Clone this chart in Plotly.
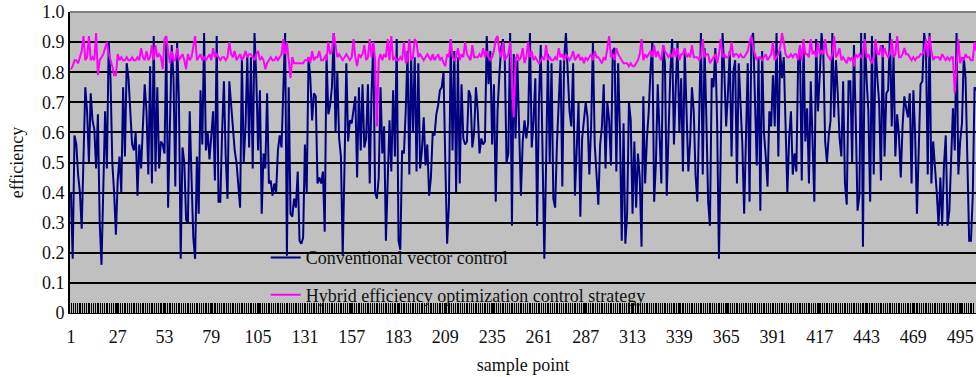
import plotly.graph_objects as go

# ---------------- data ----------------
conventional_1 = [
    0.40, 0.18, 0.59, 0.56, 0.46, 0.40, 0.28, 0.50, 0.75, 0.67,
    0.50, 0.73, 0.64, 0.61, 0.48, 0.66, 0.30, 0.16, 0.38, 0.67,
    0.48, 0.90, 0.78, 0.50, 0.40, 0.26, 0.44, 0.52, 0.40, 0.75,
    0.52, 0.83, 0.78, 0.66, 0.56, 0.54, 0.60, 0.39, 0.56, 0.48,
    0.62, 0.76, 0.67, 0.46, 0.82, 0.43, 0.92, 0.47, 0.75, 0.48,
    0.57, 0.56, 0.53, 0.90, 0.35, 0.64, 0.89, 0.78, 0.42, 0.90,
    0.71, 0.18, 0.55, 0.50, 0.31, 0.30, 0.67, 0.45, 0.25, 0.18,
    0.52, 0.33, 0.74, 0.56, 0.93, 0.54, 0.60, 0.51, 0.58, 0.67,
    0.44, 0.92, 0.37, 0.37, 0.60, 0.77, 0.52, 0.38, 0.77, 0.69,
    0.60, 0.54, 0.50, 0.42, 0.35, 0.85, 0.50, 0.62, 0.85, 0.55,
]
conventional_2 = [
    0.85, 0.48, 0.93, 0.78, 0.54, 0.74, 0.33, 0.53, 0.48, 0.73,
    0.43, 0.44, 0.39, 0.43, 0.40, 0.54, 0.59, 0.55, 0.73, 0.93,
    0.19, 0.75, 0.33, 0.32, 0.38, 0.35, 0.47, 0.24, 0.23, 0.25,
    0.56, 0.40, 0.85, 0.78, 0.64, 0.73, 0.72, 0.43, 0.45, 0.43,
    0.47, 0.27, 0.86, 0.66, 0.69, 0.75, 0.93, 0.60, 0.80, 0.58,
    0.52, 0.19, 0.49, 0.83, 0.57, 0.64, 0.63, 0.67, 0.72, 0.45,
    0.75, 0.54, 0.76, 0.55, 0.58, 0.76, 0.43, 0.73, 0.89, 0.40,
    0.38, 0.45, 0.75, 0.53, 0.62, 0.24, 0.42, 0.64, 0.47, 0.74,
    0.52, 0.91, 0.24, 0.21, 0.54, 0.53, 0.67, 0.87, 0.46, 0.85,
    0.60, 0.85, 0.47, 0.83, 0.48, 0.54, 0.65, 0.49, 0.56, 0.39,
    0.45, 0.60,
]
conventional_3 = [
    0.59, 0.66, 0.69, 0.74, 0.75, 0.80, 0.50, 0.23,
    0.36, 0.91, 0.54, 0.87, 0.40, 0.85, 0.43, 0.76, 0.58, 0.56,
    0.57, 0.74, 0.72, 0.55, 0.60, 0.75, 0.67, 0.53, 0.58,
    0.56, 0.57, 0.92, 0.76, 0.87, 0.56, 0.76, 0.37, 0.67,
    0.79, 0.88, 0.91, 0.85, 0.50, 0.53, 0.93, 0.29, 0.86, 0.58,
    0.84, 0.62, 0.39, 0.57, 0.64, 0.58, 0.63, 0.93, 0.55,
    0.64, 0.78, 0.29, 0.70, 0.89, 0.49, 0.18, 0.50, 0.86, 0.50,
    0.83, 0.38, 0.35, 0.56, 0.69, 0.84, 0.42, 0.84, 0.93,
    0.78, 0.67, 0.62, 0.83, 0.39, 0.55, 0.70, 0.32, 0.58,
    0.64, 0.70, 0.65, 0.46, 0.62, 0.90, 0.56, 0.47, 0.36,
    0.56, 0.62, 0.76, 0.48, 0.70, 0.64, 0.49, 0.87, 0.88,
]
conventional_4 = [
    0.47, 0.83, 0.60, 0.24, 0.63, 0.23, 0.33, 0.70, 0.64,
    0.33, 0.57, 0.35, 0.53, 0.45, 0.22, 0.72, 0.43, 0.58,
    0.67, 0.81, 0.90, 0.37, 0.50, 0.76, 0.56, 0.43, 0.89,
    0.83, 0.39, 0.62, 0.80, 0.91, 0.56, 0.75, 0.90, 0.60,
    0.78, 0.47, 0.87, 0.67, 0.47, 0.57, 0.75, 0.67,
    0.46, 0.37, 0.67, 0.93, 0.46, 0.88, 0.65, 0.37, 0.29, 0.78,
    0.75, 0.88, 0.63, 0.18, 0.54, 0.93, 0.80, 0.62, 0.73,
    0.87, 0.52, 0.80, 0.84, 0.43, 0.83, 0.70, 0.56, 0.33, 0.55,
    0.83, 0.37, 0.91, 0.93, 0.73, 0.49, 0.85, 0.34, 0.87,
    0.60, 0.52, 0.42, 0.67, 0.62, 0.79, 0.62, 0.93, 0.52,
    0.87, 0.78, 0.85, 0.63, 0.40, 0.58, 0.67, 0.46, 0.53,
]
conventional_5 = [
    0.47, 0.84, 0.88, 0.44, 0.90, 0.57, 0.68, 0.43,
    0.77, 0.54, 0.37, 0.91, 0.67, 0.79, 0.93, 0.86, 0.57,
    0.50, 0.59, 0.64, 0.93, 0.65, 0.84, 0.73, 0.58, 0.52,
    0.77, 0.43, 0.36, 0.77, 0.77, 0.50, 0.89, 0.64, 0.34,
    0.39, 0.93, 0.22, 0.93, 0.78, 0.67, 0.37, 0.92, 0.46,
    0.89, 0.78, 0.70, 0.44, 0.89, 0.52, 0.73, 0.74, 0.93,
    0.62, 0.86, 0.52, 0.66, 0.59, 0.45, 0.62, 0.72, 0.68,
    0.65, 0.73, 0.43, 0.74, 0.59, 0.33, 0.56, 0.76, 0.77,
    0.93, 0.88, 0.46, 0.93, 0.43, 0.57, 0.49, 0.40, 0.29, 0.45,
    0.29, 0.49, 0.59, 0.29, 0.34, 0.55, 0.68, 0.54, 0.93, 0.46,
    0.57, 0.63, 0.85, 0.78, 0.53, 0.24, 0.24, 0.39, 0.75, 0.74,
]

hybrid_1 = [
    0.81, 0.82, 0.84, 0.84, 0.83, 0.85, 0.87, 0.92, 0.84, 0.85,
    0.92, 0.84, 0.85, 0.84, 0.93, 0.79, 0.84, 0.85, 0.86, 0.88,
    0.90, 0.86, 0.84, 0.82, 0.79, 0.79, 0.86, 0.84, 0.85, 0.84,
    0.84, 0.85, 0.84, 0.84, 0.85, 0.84, 0.84, 0.85, 0.84, 0.88,
    0.85, 0.84, 0.87, 0.84, 0.85, 0.89, 0.84, 0.89, 0.85, 0.86,
    0.85, 0.81, 0.91, 0.92, 0.87, 0.83, 0.87, 0.84, 0.84, 0.88,
    0.84, 0.85, 0.86, 0.84, 0.81, 0.86, 0.84, 0.85, 0.88, 0.92,
    0.84, 0.85, 0.86, 0.84, 0.85, 0.84, 0.85, 0.86, 0.84, 0.88,
    0.85, 0.86, 0.85, 0.84, 0.85, 0.85, 0.84, 0.85, 0.90, 0.86,
    0.85, 0.87, 0.84, 0.85, 0.86, 0.84, 0.85, 0.87, 0.85, 0.86,
]
hybrid_2 = [
    0.86, 0.85, 0.84, 0.86, 0.87, 0.84, 0.85, 0.84, 0.81, 0.83,
    0.84, 0.85, 0.84, 0.84, 0.85, 0.84, 0.85, 0.86, 0.91, 0.86,
    0.90, 0.84, 0.78, 0.85, 0.83, 0.83, 0.83, 0.83, 0.83, 0.83,
    0.84, 0.84, 0.85, 0.83, 0.87, 0.84, 0.85, 0.85, 0.87, 0.84,
    0.84, 0.85, 0.84, 0.90, 0.86, 0.87, 0.93, 0.88, 0.85, 0.86,
    0.85, 0.84, 0.85, 0.86, 0.85, 0.84, 0.85, 0.91, 0.85, 0.82,
    0.86, 0.85, 0.86, 0.89, 0.84, 0.85, 0.91, 0.85, 0.90, 0.84,
    0.62, 0.84, 0.86, 0.84, 0.86, 0.85, 0.91, 0.84, 0.92, 0.84,
    0.85, 0.84, 0.84, 0.85, 0.84, 0.90, 0.83, 0.84, 0.91, 0.84,
    0.85, 0.91, 0.90, 0.85, 0.86, 0.85, 0.84, 0.85, 0.86, 0.85,
    0.84, 0.86,
]
hybrid_3 = [
    0.84, 0.85, 0.86, 0.84, 0.85, 0.83, 0.82, 0.86, 0.85, 0.91,
    0.85, 0.84, 0.85, 0.88, 0.84, 0.86, 0.85, 0.90, 0.86, 0.85,
    0.84, 0.89, 0.85, 0.85, 0.85, 0.86, 0.85, 0.88, 0.85, 0.87,
    0.85, 0.84, 0.85, 0.87, 0.91, 0.92, 0.87, 0.85, 0.90, 0.84,
    0.85, 0.86, 0.90, 0.78, 0.65, 0.84, 0.86, 0.84, 0.85, 0.88,
    0.83, 0.85, 0.90, 0.85, 0.87, 0.84, 0.85, 0.84, 0.83, 0.84,
    0.85, 0.84, 0.89, 0.84, 0.85, 0.84, 0.84, 0.85, 0.84, 0.88,
    0.85, 0.86, 0.84, 0.86, 0.85, 0.84, 0.85, 0.87, 0.84, 0.85,
    0.86, 0.84, 0.85, 0.83, 0.85, 0.84, 0.85, 0.86, 0.84, 0.87,
    0.85, 0.85, 0.84, 0.83, 0.85, 0.84, 0.88, 0.92, 0.85, 0.86,
    0.84,
]
hybrid_4 = [
    0.88, 0.86, 0.85, 0.84, 0.83, 0.83, 0.83, 0.82, 0.83, 0.82,
    0.82, 0.83, 0.84, 0.86, 0.91, 0.84, 0.86, 0.85, 0.86, 0.87,
    0.85, 0.89, 0.85, 0.87, 0.85, 0.84, 0.89, 0.87, 0.86, 0.85,
    0.86, 0.85, 0.88, 0.85, 0.88, 0.84, 0.86, 0.86, 0.88, 0.85,
    0.86, 0.85, 0.89, 0.85, 0.85, 0.85, 0.84, 0.85, 0.91, 0.85,
    0.86, 0.86, 0.83, 0.84, 0.85, 0.86, 0.83, 0.86, 0.91, 0.85,
    0.86, 0.85, 0.85, 0.86, 0.90, 0.85, 0.86, 0.86, 0.85, 0.86,
    0.85, 0.85, 0.86, 0.87, 0.90, 0.92, 0.88, 0.86, 0.84, 0.85,
    0.85, 0.84, 0.85, 0.86, 0.84, 0.85, 0.86, 0.90, 0.84, 0.85,
    0.86, 0.88, 0.93, 0.90, 0.86, 0.85, 0.85, 0.86, 0.85, 0.86,
]
hybrid_5 = [
    0.86, 0.84, 0.89, 0.84, 0.91, 0.86, 0.86, 0.85, 0.91, 0.86,
    0.87, 0.85, 0.90, 0.86, 0.87, 0.86, 0.91, 0.86, 0.85, 0.84,
    0.86, 0.92, 0.85, 0.86, 0.88, 0.84, 0.85, 0.84, 0.83, 0.85,
    0.84, 0.85, 0.82, 0.86, 0.85, 0.86, 0.85, 0.86, 0.91, 0.85,
    0.86, 0.84, 0.83, 0.85, 0.91, 0.86, 0.86, 0.89, 0.85, 0.88,
    0.86, 0.85, 0.86, 0.91, 0.85, 0.86, 0.92, 0.85, 0.85, 0.86,
    0.88, 0.86, 0.86, 0.85, 0.84, 0.85, 0.84, 0.85, 0.85, 0.86,
    0.86, 0.87, 0.91, 0.85, 0.92, 0.87, 0.84, 0.85, 0.85, 0.85,
    0.84, 0.86, 0.85, 0.84, 0.85, 0.84, 0.85, 0.85, 0.73, 0.82,
    0.91, 0.83, 0.85, 0.84, 0.86, 0.85, 0.85, 0.84, 0.84, 0.90,
    0.87,
]

x_tick_values = [1, 27, 53, 79, 105, 131, 157, 183, 209, 235, 261, 287,
                 313, 339, 365, 391, 417, 443, 469, 495]
y_tick_values = [0, 0.1, 0.2, 0.3, 0.4, 0.5, 0.6, 0.7, 0.8, 0.9, 1.0]
y_tick_labels = ["0", "0.1", "0.2", "0.3", "0.4", "0.5", "0.6", "0.7",
                 "0.8", "0.9", "1.0"]

series_names = ["Conventional vector control",
                "Hybrid efficiency optimization control strategy"]

# ---------------- build ----------------
conventional = (conventional_1 + conventional_2 + conventional_3 +
                conventional_4 + conventional_5)
hybrid = hybrid_1 + hybrid_2 + hybrid_3 + hybrid_4 + hybrid_5

x_conv = list(range(1, len(conventional) + 1))
x_hyb = list(range(1, len(hybrid) + 1))

FONT = "Liberation Serif, Times New Roman, serif"
TXT = "#111111"

fig = go.Figure()
fig.add_trace(go.Scatter(
    x=x_conv, y=conventional, mode="lines", name=series_names[0],
    line=dict(color="#000080", width=2), legendgroup="g1"))
fig.add_trace(go.Scatter(
    x=x_hyb, y=hybrid, mode="lines", name=series_names[1],
    line=dict(color="#FF00FF", width=2), legendgroup="g2"))

fig.update_layout(
    template="none",
    width=976, height=377,
    margin=dict(l=70, r=0, t=12, b=64, pad=0),
    paper_bgcolor="white",
    plot_bgcolor="#C0C0C0",
    font=dict(family=FONT, size=18, color=TXT),
    showlegend=True,
    legend=dict(
        x=0.216, y=0.245, xanchor="left", yanchor="top",
        bgcolor="rgba(0,0,0,0)", borderwidth=0,
        font=dict(family=FONT, size=18, color=TXT),
        traceorder="grouped", tracegroupgap=11,
    ),
    xaxis=dict(
        automargin=False,
        range=[0.5, 503.8],
        tickmode="array", tickvals=x_tick_values,
        ticktext=[str(v) for v in x_tick_values],
        ticks="inside", ticklen=10, tickwidth=1.45, tickcolor="black",
        minor=dict(tick0=0.5, dtick=1, ticks="inside", ticklen=10,
                   tickwidth=1.45, tickcolor="black", showgrid=False),
        showgrid=False, zeroline=False,
        showline=True, linecolor="black", linewidth=1,
        ticklabelstandoff=7,
        tickfont=dict(family=FONT, size=18, color=TXT),
        title=dict(text="sample point", standoff=12,
                   font=dict(family=FONT, size=18, color=TXT)),
    ),
    yaxis=dict(
        automargin=False,
        range=[0, 1],
        tickmode="array", tickvals=y_tick_values, ticktext=y_tick_labels,
        ticks="", showgrid=True, gridcolor="black", gridwidth=2,
        zeroline=False, showline=True, linecolor="black", linewidth=2,
        tickfont=dict(family=FONT, size=18, color=TXT),
        title=dict(text="efficiency", standoff=14,
                   font=dict(family=FONT, size=18, color=TXT)),
    ),
    shapes=[dict(type="line", xref="paper", yref="paper", x0=0, x1=1,
                 y0=1, y1=1, line=dict(color="#808080", width=2),
                 layer="above")],
)

fig.write_html(
    "out.html",
    config={"displayModeBar": False},
    post_script="document.body.style.margin='0';document.body.style.padding='0';",
)
